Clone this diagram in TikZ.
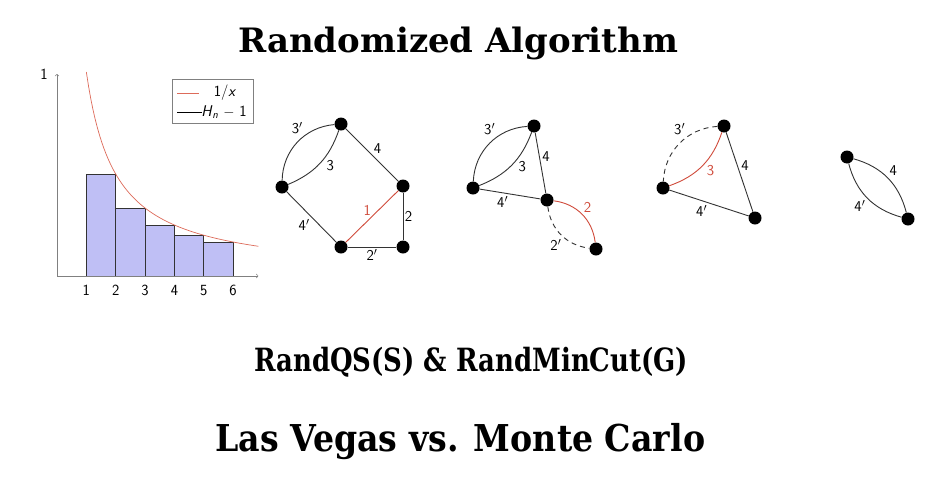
\documentclass[tikz,border=0pt]{standalone}
\usepackage{fontspec}
\newfontfamily\slabfont{DejaVu Serif}
\definecolor{barfill}{HTML}{BFBFF5}
\definecolor{curvered}{HTML}{DD6B5A}
\definecolor{cutred}{HTML}{D04B3B}
\definecolor{edgegray}{HTML}{333333}
\tikzset{
  vtx/.style={circle,fill=black,inner sep=0pt,minimum size=13pt},
  elabel/.style={font=\sffamily\fontsize{15}{15}\selectfont,inner sep=1.5pt},
  gedge/.style={draw=edgegray,line width=0.9pt},
  cutedge/.style={draw=cutred,line width=0.9pt},
  gone/.style={gedge,dash pattern=on 5pt off 4pt},
  headtxt/.style={inner sep=0pt,anchor=base west,font=\slabfont\bfseries},
  ticktxt/.style={font=\sffamily\fontsize{15.5}{15.5}\selectfont}
}
\begin{document}
\begin{tikzpicture}[x=1pt,y=-1pt]
    \useasboundingbox[fill=white] (0,0) rectangle (942,477);

    % headings
    \node[headtxt,font=\slabfont\bfseries\fontsize{33.6}{36}\selectfont] (title) at (238,52) {\resizebox{440pt}{\height}{Randomized Algorithm}};
    \node[headtxt,font=\slabfont\bfseries\fontsize{32}{36}\selectfont] (alg) at (254,371.5) {\resizebox{434pt}{\height}{RandQS(S) \& RandMinCut(G)}};
    \node[headtxt,font=\slabfont\bfseries\fontsize{37}{40}\selectfont] (lvmc) at (215,451.7) {\resizebox{490pt}{\height}{Las Vegas vs. Monte Carlo}};

    % harmonic sum chart
    \begin{scope}[shift={(57,276)},x=29.35pt,y=204pt]
        \foreach \i in {1,...,5}{
            \draw[fill=barfill,draw=black!80,line width=0.6pt] (\i,0) rectangle (\i+1,{1/(\i+1)});
        }
        \draw[curvered,line width=0.7pt,domain=1:6.86,samples=80] plot (\x,{1/\x});
        \draw[gray,line width=0.6pt,->] (0,0) -- (6.86,0);
        \draw[gray,line width=0.6pt,->] (0,0) -- (0,0.99);
        \foreach \i in {1,...,6}{
            \node[ticktxt] (t\i) at (\i,-0.07) {\i};
        }
        \node[ticktxt] (ytop) at (-0.44,0.99) {1};
    \end{scope}
    \node[draw=gray,fill=white,line width=0.6pt,minimum width=81pt,minimum height=44pt,inner sep=0pt] (legend) at (212.5,101) {};
    \draw[curvered,line width=0.8pt] (177,93) -- (199,93);
    \node[ticktxt] (leg1) at (225,93) {1/\textit{x}};
    \draw[black,line width=0.8pt] (177,112) -- (202,112);
    \node[ticktxt] (leg2) at (224,112) {\textit{H}\textsubscript{\textit{n}}\ $-$\ 1};

    % graph 1
    \node[vtx] (a1) at (341,124) {};
    \node[vtx] (b1) at (282,187) {};
    \node[vtx] (c1) at (403,186) {};
    \node[vtx] (d1) at (341,247) {};
    \node[vtx] (e1) at (403,247) {};
    \draw[gedge] (a1) to[bend right=42] node[elabel,auto,swap,pos=0.38] (l13p) {3$'$} (b1);
    \draw[gedge] (a1) to[bend left=24] node[elabel,auto,pos=0.4] (l13) {3} (b1);
    \draw[gedge] (a1) -- node[elabel,auto] (l14) {4} (c1);
    \draw[gedge] (b1) -- node[elabel,auto,swap] (l14p) {4$'$} (d1);
    \draw[cutedge] (d1) -- node[elabel,auto,text=cutred,inner sep=0.5pt] (l11) {1} (c1);
    \draw[gedge] (c1) -- node[elabel,auto] (l12) {2} (e1);
    \draw[gedge] (d1) -- node[elabel,auto,swap] (l12p) {2$'$} (e1);

    % graph 2
    \node[vtx] (a2) at (534,126) {};
    \node[vtx] (b2) at (473,188) {};
    \node[vtx] (c2) at (547,200) {};
    \node[vtx] (d2) at (596,249) {};
    \draw[gedge] (a2) to[bend right=42] node[elabel,auto,swap,pos=0.38] (l23p) {3$'$} (b2);
    \draw[gedge] (a2) to[bend left=24] node[elabel,auto,pos=0.4] (l23) {3} (b2);
    \draw[gedge] (a2) -- node[elabel,auto] (l24) {4} (c2);
    \draw[gedge] (b2) -- node[elabel,auto,swap] (l24p) {4$'$} (c2);
    \draw[cutedge] (c2) to[bend left=38] node[elabel,auto,text=cutred] (l22) {2} (d2);
    \draw[gone] (c2) to[bend right=38] node[elabel,auto,swap,pos=0.55] (l22p) {2$'$} (d2);

    % graph 3
    \node[vtx] (a3) at (724,126) {};
    \node[vtx] (b3) at (663,188) {};
    \node[vtx] (c3) at (755,218) {};
    \draw[gone] (a3) to[bend right=42] node[elabel,auto,swap,pos=0.38] (l33p) {3$'$} (b3);
    \draw[cutedge] (a3) to[bend left=26] node[elabel,auto,text=cutred,pos=0.45] (l33) {3} (b3);
    \draw[gedge] (a3) -- node[elabel,auto] (l34) {4} (c3);
    \draw[gedge] (b3) -- node[elabel,auto,swap] (l34p) {4$'$} (c3);

    % graph 4
    \node[vtx] (a4) at (847,157) {};
    \node[vtx] (b4) at (908,219) {};
    \draw[gedge] (a4) to[bend left=30] node[elabel,auto] (l44) {4} (b4);
    \draw[gedge] (a4) to[bend right=30] node[elabel,auto,swap] (l44p) {4$'$} (b4);
\end{tikzpicture}
\end{document}
